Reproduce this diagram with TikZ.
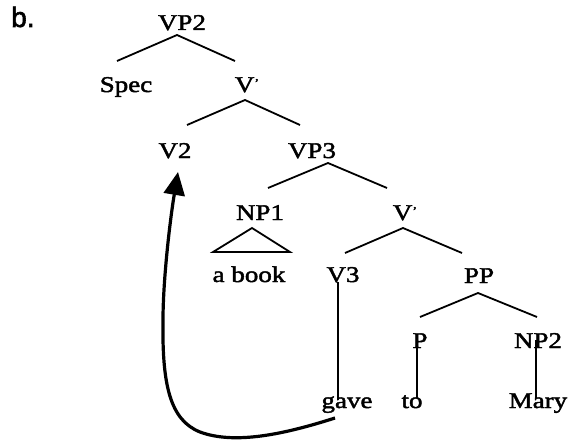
\documentclass[tikz,border=0pt]{standalone}
\usepackage{fontspec}
\setmainfont[FakeStretch=1.2,FakeBold=2]{Liberation Serif}
\newfontfamily\labfont[FakeBold=2]{Liberation Sans}
\usetikzlibrary{arrows.meta,calc}
\newcommand{\vbarmark}{V\raisebox{5pt}{\fontsize{12}{12}\selectfont'}}
\begin{document}
\begin{tikzpicture}[x=1pt,y=-1pt,
  lab/.style={anchor=base,inner sep=0pt,font=\fontsize{22.5}{26}\selectfont},
  br/.style={line width=1.8pt},
  vl/.style={line width=2.4pt},
  mv/.style={line width=3.2pt,-{Triangle[length=23pt,width=21pt]}}]
\useasboundingbox (0,0) rectangle (571,444);
\node[anchor=base west,inner sep=0pt,font={\labfont\fontsize{28}{32}\selectfont}] (b) at (11,27) {b.};
\node[lab] (VP2) at (182,30) {VP2};
\node[lab] (Spec) at (126,92) {Spec};
\node[lab] (Vb1) at (247,92) {\vbarmark};
\node[lab] (V2) at (175,158) {V2};
\node[lab] (VP3) at (312,158) {VP3};
\node[lab] (NP1) at (260,220) {NP1};
\node[lab] (Vb2) at (405,220) {\vbarmark};
\node[lab] (abook) at (249,282) {a book};
\node[lab] (V3) at (343,282) {V3};
\node[lab] (PP) at (479,283) {PP};
\node[lab] (P) at (420,348) {P};
\node[lab] (NP2) at (538,348) {NP2};
\node[lab] (gave) at (347,408) {gave};
\node[lab] (to) at (412,408) {to};
\node[lab] (Mary) at (538,408) {Mary};
% branches
\draw[br] ($(Spec.base)+(-9,-31)$) -- ($(VP2.base)+(-5,5)$) -- ($(Vb1.base)+(-12,-31)$);
\draw[br] ($(V2.base)+(12,-33)$) -- ($(Vb1.base)+(-2,8)$) -- ($(VP3.base)+(-12,-33)$);
\draw[br] ($(NP1.base)+(8,-32)$) -- ($(VP3.base)+(16,5)$) -- ($(Vb2.base)+(-18,-32)$);
\draw[br] ($(abook.base)+(-36,-30)$) -- ($(NP1.base)+(-8,8)$) -- ($(abook.base)+(41,-30)$) -- cycle;
\draw[br] ($(V3.base)+(2,-29)$) -- ($(Vb2.base)+(-2,8)$) -- ($(PP.base)+(-17,-30)$);
\draw[br] ($(P.base)+(0,-31)$) -- ($(PP.base)+(-1,10)$) -- ($(NP2.base)+(-1,-31)$);
\draw[vl] ($(V3.base)+(-5,0)$) -- ($(gave.base)+(-9,-8)$);
\draw[vl] ($(P.base)+(-3,-8)$) -- ($(to.base)+(5,-10)$);
\draw[vl] ($(NP2.base)+(-2,-8)$) -- ($(Mary.base)+(-2,-10)$);
% movement arrow
\draw[mv] ($(gave.base)+(-12,10)$) .. controls (285,434) and (235,445) .. (200,432)
  .. controls (170,420) and (162,385) .. (163,320)
  .. controls (163,280) and (170,220) .. ($(V2.base)+(3,14)$);
\end{tikzpicture}
\end{document}
